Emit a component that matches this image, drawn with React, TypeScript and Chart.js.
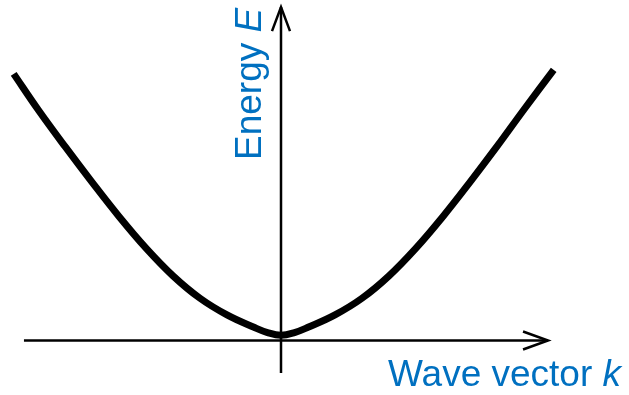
import React, { useEffect, useRef } from "react";
import { Chart, registerables } from "chart.js";

Chart.register(...registerables);

// Wave vector k (arbitrary units) and energy E
const kValues = [-0.99, -0.9, -0.8, -0.7, -0.6, -0.5, -0.4, -0.3, -0.2, -0.1, -0.05, 0, 0.05, 0.1, 0.2, 0.3, 0.4, 0.5, 0.6, 0.7, 0.8, 0.9, 1.01];
const energyValues = [1.01, 0.875, 0.735, 0.6, 0.47, 0.35, 0.245, 0.16, 0.097, 0.05, 0.03, 0.02, 0.03, 0.05, 0.097, 0.16, 0.245, 0.35, 0.47, 0.6, 0.735, 0.875, 1.025];

const xAxisLabel = ["Wave vector ", "k"];
const yAxisLabel = ["Energy ", "E"];

const BLUE = "#0070C0";
const FONT = "Liberation Sans, Arial, sans-serif";

const arrowAxes = {
  id: "arrowAxes",
  afterDatasetsDraw(chart: any) {
    const { ctx, scales } = chart;
    const xs = scales.x;
    const ys = scales.y;
    const x0 = xs.getPixelForValue(0);
    const y0 = ys.getPixelForValue(0);
    const hStart = xs.getPixelForValue(-0.952);
    const hEnd = xs.getPixelForValue(0.989);
    const vBottom = ys.getPixelForValue(-0.123);
    const vTop = ys.getPixelForValue(1.263);
    ctx.save();
    ctx.strokeStyle = "#000";
    ctx.lineWidth = 2.5;
    ctx.lineCap = "butt";
    ctx.lineJoin = "miter";
    // horizontal axis
    ctx.beginPath();
    ctx.moveTo(hStart, y0);
    ctx.lineTo(hEnd, y0);
    ctx.stroke();
    ctx.beginPath();
    ctx.moveTo(hEnd - 25, y0 - 9);
    ctx.lineTo(hEnd, y0);
    ctx.lineTo(hEnd - 25, y0 + 9);
    ctx.stroke();
    // vertical axis
    ctx.beginPath();
    ctx.moveTo(x0, vBottom);
    ctx.lineTo(x0, vTop);
    ctx.stroke();
    ctx.beginPath();
    ctx.moveTo(x0 - 9, vTop + 24);
    ctx.lineTo(x0, vTop);
    ctx.lineTo(x0 + 9, vTop + 24);
    ctx.stroke();

    // labels
    ctx.fillStyle = BLUE;
    ctx.textBaseline = "alphabetic";
    ctx.textAlign = "left";
    const size = 37;
    const normal = `${size}px ${FONT}`;
    const italic = `italic ${size}px ${FONT}`;
    // x label
    let lx = 388;
    const ly = 386;
    ctx.font = normal;
    ctx.fillText(xAxisLabel[0], lx, ly);
    lx += ctx.measureText(xAxisLabel[0]).width;
    ctx.font = italic;
    ctx.fillText(xAxisLabel[1], lx, ly);
    // y label rotated
    ctx.save();
    ctx.translate(x0 - 20.5, 160);
    ctx.rotate(-Math.PI / 2);
    ctx.font = normal;
    ctx.fillText(yAxisLabel[0], 0, 0);
    const w = ctx.measureText(yAxisLabel[0]).width;
    ctx.font = italic;
    ctx.fillText(yAxisLabel[1], w, 0);
    ctx.restore();
    ctx.restore();
  },
};

export default function App() {
  const canvasRef = useRef<HTMLCanvasElement | null>(null);

  useEffect(() => {
    if (!canvasRef.current) return;
    const data = kValues.map((k, i) => ({ x: k, y: energyValues[i] }));
    const chart = new Chart(canvasRef.current, {
      type: "line",
      data: {
        datasets: [
          {
            data,
            borderColor: "#000",
            borderWidth: 7,
            borderCapStyle: "butt",
            borderJoinStyle: "round",
            pointRadius: 0,
            tension: 0.4,
            fill: false,
          },
        ],
      },
      options: {
        animation: false,
        responsive: false,
        devicePixelRatio: 1,
        layout: { padding: 0 },
        plugins: { legend: { display: false }, tooltip: { enabled: false } },
        scales: {
          x: { type: "linear", display: false, min: -281 / 270, max: 348 / 270 },
          y: { type: "linear", display: false, min: -54.5 / 264, max: 340.5 / 264 },
        },
      },
      plugins: [arrowAxes],
    });
    return () => chart.destroy();
  }, []);

  return (
    <div style={{ position: "absolute", left: 0, top: 0, width: 629, height: 395, background: "#fff" }}>
      <canvas ref={canvasRef} width={629} height={395} style={{ display: "block", width: 629, height: 395 }} />
    </div>
  );
}
